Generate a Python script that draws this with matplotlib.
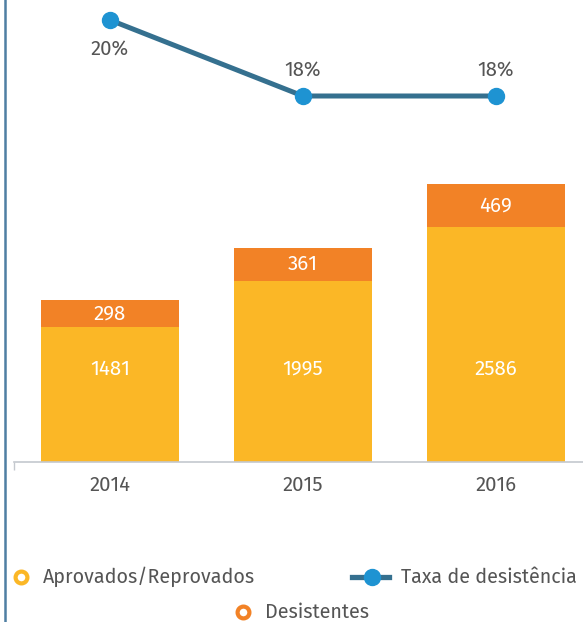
import matplotlib
matplotlib.use("Agg")
import matplotlib.pyplot as plt
from matplotlib.lines import Line2D

years = ["2014", "2015", "2016"]
aprovados = [1481, 1995, 2586]
desistentes = [298, 361, 469]
taxa = [20, 18, 18]

YELLOW = "#FBB726"
ORANGE = "#F28226"
LINE = "#35708F"
DOT = "#1E93D2"
TEXT = "#555555"

plt.rcParams["font.family"] = ["Fira Sans", "Noto Sans", "DejaVu Sans"]

W, H = 583, 622
fig = plt.figure(figsize=(W / 100, H / 100), dpi=100)
ax = fig.add_axes([14 / W, 1 - 462 / H, 1 - 14 / W, 462 / H])

x = list(range(len(years)))
ax.bar(x, aprovados, width=0.72, color=YELLOW, zorder=2)
ax.bar(x, desistentes, width=0.72, bottom=aprovados, color=ORANGE, zorder=2)

for i in x:
    ax.text(i, aprovados[i] + desistentes[i] / 2, str(desistentes[i]),
            ha="center", va="center", color="white", fontsize=14.8)
    ax.text(i, 1023, str(aprovados[i]), ha="center", va="center",
            color="white", fontsize=14.8)

ax.set_xlim((14 - 110) / 193, (583 - 110) / 193)
ax.set_ylim(0, 462 * 11)
ax.set_yticks([])
ax.set_xticks(x)
ax.set_xticklabels(years, fontsize=14.6, color=TEXT)
ax.tick_params(axis="x", length=0, pad=10)
ax.set_xticks([(14 - 110) / 193], minor=True)
ax.tick_params(axis="x", which="minor", length=6, color="#C4C8CE", width=1)
for s in ["top", "right", "left"]:
    ax.spines[s].set_visible(False)
ax.spines["bottom"].set_color("#C4C8CE")
ax.spines["bottom"].set_linewidth(1.2)

ax2 = ax.twinx()
ax2.plot(x, taxa, color=LINE, lw=3.6, marker="o", ms=11.5,
         mfc=DOT, mec=DOT, zorder=3, clip_on=False)
ax2.set_ylim(20 - 442 / 38, 20 + 20 / 38)
ax2.axis("off")
for i, v in enumerate(taxa):
    off = -21 if i == 0 else 19
    ax2.annotate(f"{v}%", (i, v), xytext=(0, off), textcoords="offset points",
                 ha="center", va="center", fontsize=14.6, color=TEXT)

# left border
fig.add_artist(Line2D([5 / W, 5 / W], [0, 1], color="#4F7FA3", lw=1.8))

# legend
def fx(px):
    return px / W

def fy(py):
    return 1 - py / H

fig.add_artist(Line2D([fx(21)], [fy(577)], marker="o", ms=8.5, mfc="white",
                      mec=YELLOW, mew=3, ls="none"))
fig.text(fx(43), fy(577), "Aprovados/Reprovados", ha="left", va="center",
         fontsize=14.2, color=TEXT)
fig.add_artist(Line2D([fx(352), fx(389)], [fy(577), fy(577)], color=LINE, lw=3.8))
fig.add_artist(Line2D([fx(372)], [fy(577)], marker="o", ms=11.5, mfc=DOT, mec=DOT,
                      ls="none"))
fig.text(fx(401), fy(577), "Taxa de desistência", ha="left", va="center",
         fontsize=14.2, color=TEXT)
fig.add_artist(Line2D([fx(243)], [fy(612)], marker="o", ms=8.5, mfc="white",
                      mec=ORANGE, mew=3, ls="none"))
fig.text(fx(265), fy(612), "Desistentes", ha="left", va="center",
         fontsize=14.2, color=TEXT)

fig.savefig("out.png", dpi=100)
